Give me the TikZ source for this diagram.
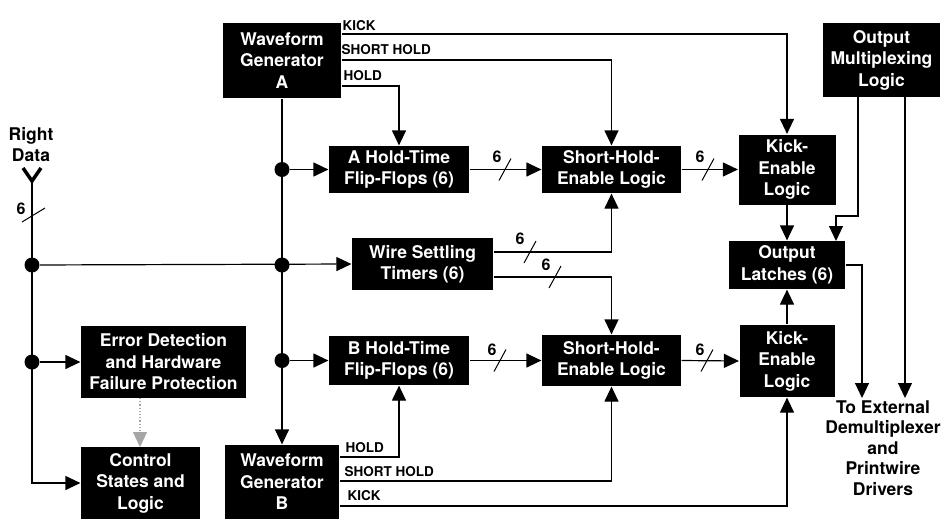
\documentclass[tikz,border=0pt]{standalone}
\usepackage{fontspec}
\setmainfont{TeX Gyre Heros}
\usetikzlibrary{arrows.meta}
\begin{document}
\begin{tikzpicture}[x=1pt,y=-1pt,
  line width=1.2pt,
  arr/.style={-{Triangle[length=15pt,width=14pt]}},
  blk/.style={fill=black,text=white,align=center,inner sep=0pt,
    font=\bfseries\fontsize{17.5}{21.5}\selectfont},
  sig/.style={font=\bfseries\fontsize{13.5}{16}\selectfont,inner sep=0pt},
  num/.style={font=\bfseries\fontsize{16}{16}\selectfont,inner sep=0pt},
  jdot/.style={circle,fill=black,inner sep=0pt,minimum size=15pt},
  slash/.style={line width=1pt}]
\useasboundingbox (0,0) rectangle (943,520);
% blocks
\node[blk,minimum width=118pt,minimum height=75pt] (WGA) at (282,60.5) {Waveform\\Generator\\A};
\node[blk,minimum width=140pt,minimum height=47pt] (AH) at (399,169.5) {A Hold-Time\\Flip-Flops (6)};
\node[blk,minimum width=139pt,minimum height=47pt] (SHA) at (611.5,169.5) {Short-Hold-\\Enable Logic};
\node[blk,minimum width=97pt,minimum height=70pt] (KEA) at (787,169.5) {Kick-\\Enable\\Logic};
\node[blk,minimum width=117pt,minimum height=74pt] (OML) at (881.5,60) {Output\\Multiplexing\\Logic};
\node[blk,minimum width=141pt,minimum height=52pt] (WST) at (422.5,264) {Wire Settling\\Timers (6)};
\node[blk,minimum width=116pt,minimum height=48pt] (OL) at (787,265) {Output\\Latches (6)};
\node[blk,minimum width=165pt,minimum height=72pt] (ED) at (163.5,362) {Error Detection\\and Hardware\\Failure Protection};
\node[blk,minimum width=140pt,minimum height=49pt] (BH) at (399,360.5) {B Hold-Time\\Flip-Flops (6)};
\node[blk,minimum width=139pt,minimum height=51pt] (SHB) at (611.5,360.5) {Short-Hold-\\Enable Logic};
\node[blk,minimum width=95pt,minimum height=72pt] (KEB) at (787,361) {Kick-\\Enable\\Logic};
\node[blk,minimum width=119pt,minimum height=72pt] (CS) at (140.5,483) {Control\\States and\\Logic};
\node[blk,minimum width=114pt,minimum height=74pt] (WGB) at (282,482) {Waveform\\Generator\\B};
% text nodes
\node[align=center,inner sep=0pt,font=\bfseries\fontsize{17.5}{21}\selectfont] (RD) at (31,145) {Right\\Data};
\node[align=center,inner sep=0pt,anchor=north,font=\bfseries\fontsize{17.5}{20.5}\selectfont] (EXT) at (883,400) {To External\\Demultiplexer\\and\\Printwire\\Drivers};
% signal labels
\node[sig,anchor=base west] (lkA) at (342,30) {KICK};
\node[sig,anchor=base west] (lsA) at (341,54) {SHORT HOLD};
\node[sig,anchor=base west] (lhA) at (343,80) {HOLD};
\node[sig,anchor=base west] (lhB) at (345,452) {HOLD};
\node[sig,anchor=base west] (lsB) at (344,476) {SHORT HOLD};
\node[sig,anchor=base west] (lkB) at (347,500) {KICK};
% junction dots
\node[jdot] (d1) at (282,169.5) {};
\node[jdot] (d2) at (282,265) {};
\node[jdot] (d3) at (282,360.5) {};
\node[jdot] (l1) at (32,265) {};
\node[jdot] (l2) at (32,362) {};
% Right data chevron
\coordinate (rd) at (32,181);
\draw[line width=3.5pt] (23,168) -- (rd) -- (41,168);
% left bus
\draw[arr] (rd) -- (32,483) -- (CS.west);
\draw[slash] (22,222) -- (45,208);
\node[num] (n0) at (21,209) {6};
\draw[arr] (l1) -- (WST.west);
\draw[arr] (l2) -- (ED.west);
\draw[arr,gray!70,dotted] (140,398) -- (140,447);
% trunk
\draw[arr] (WGA.south) -- (WGB.north);
\draw[arr] (d1) -- (AH.west);
\draw[arr] (d3) -- (BH.west);
% WGA signals
\coordinate (kA) at (WGA.east |- 0,34);
\coordinate (sA) at (WGA.east |- 0,60);
\coordinate (hA) at (WGA.east |- 0,86);
\draw[arr] (kA) -| (KEA.north);
\draw[arr] (sA) -| (SHA.north);
\draw[arr] (hA) -| (AH.north);
% WGB signals
\coordinate (hB) at (WGB.east |- 0,457);
\coordinate (sB) at (WGB.east |- 0,481);
\coordinate (kB) at (WGB.east |- 0,506);
\draw[arr] (hB) -| (BH.south);
\draw[arr] (sB) -| (SHB.south);
\draw[arr] (kB) -| (KEB.south);
% A row bus
\draw[arr] (AH.east) -- (SHA.west);
\draw[slash] (505,169.5) ++(-6,11) -- ++(12,-22);
\node[num] (n1) at (497,157) {6};
\draw[arr] (SHA.east) -- (KEA.west);
\draw[slash] (708,169.5) ++(-6,11) -- ++(12,-22);
\node[num] (n2) at (700,157) {6};
% B row bus
\draw[arr] (BH.east) -- (SHB.west);
\draw[slash] (500,360.5) ++(-6,11) -- ++(12,-22);
\node[num] (n3) at (492,350) {6};
\draw[arr] (SHB.east) -- (KEB.west);
\draw[slash] (707,360.5) ++(-6,11) -- ++(12,-22);
\node[num] (n4) at (700,350) {6};
% wire settling outputs
\coordinate (w1) at (WST.east |- 0,252);
\coordinate (w2) at (WST.east |- 0,277);
\draw[arr] (w1) -| (SHA.south);
\draw[slash] (530,252) ++(-6,11) -- ++(12,-22);
\node[num] (n5) at (520,239) {6};
\draw[arr] (w2) -| (SHB.north);
\draw[slash] (555,277) ++(-6,11) -- ++(12,-22);
\node[num] (n6) at (546,265) {6};
% output side
\draw[arr] (KEA.south) -- (OL.north);
\draw[arr] (KEB.north) -- (OL.south);
\coordinate (om1) at (858,97);
\coordinate (om2) at (905,97);
\draw[arr] (om1) -- (858,216) -- (836,216) -- (836,241);
\draw[arr] (om2) -- (905,398);
\coordinate (ol1) at (OL.east);
\draw[arr] (ol1) -- (862,265) -- (862,398);
\end{tikzpicture}
\end{document}
